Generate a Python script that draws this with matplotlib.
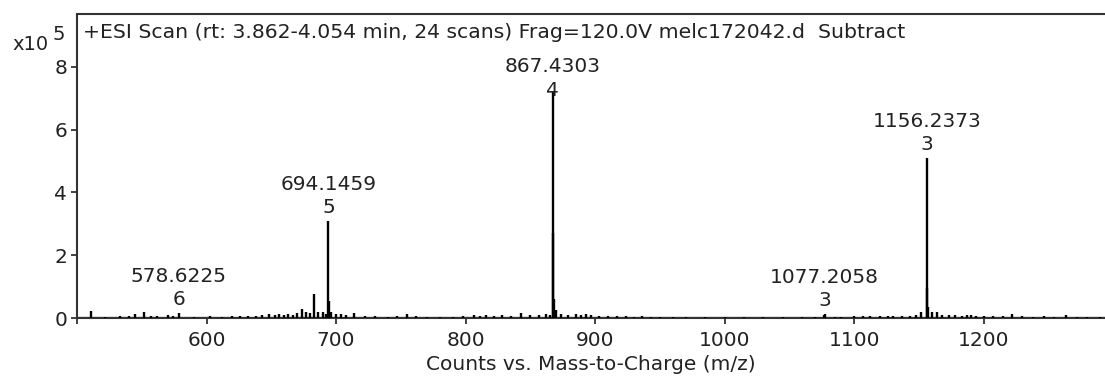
import numpy as np
import matplotlib.pyplot as plt

plt.rcParams['font.family'] = 'DejaVu Sans'

# peak list (m/z, counts in units of 1e5)
mz = [511, 522, 533, 540, 545, 552, 557, 562, 570, 574,
      578.62, 590, 603, 612, 620, 626, 632, 638, 643, 648,
      653, 656, 660, 663, 667, 670, 674, 677, 680, 682.7,
      686, 690, 692, 694.15, 694.35, 696, 700, 704, 708, 714,
      722, 730, 740, 747, 755, 762, 770, 780, 790, 798,
      806.6, 811, 816, 822, 828, 835, 843, 850, 857, 862,
      865, 867.43, 867.68, 868.2, 870, 874, 879, 885, 889, 893,
      897, 903, 910, 917, 924, 930, 936, 943, 950, 960,
      970, 985, 1000, 1015, 1030, 1045, 1060, 1070, 1076.9, 1077.2,
      1085, 1090, 1100, 1107, 1112, 1120, 1126, 1130, 1137, 1143,
      1148, 1152, 1156.24, 1156.57, 1157.2, 1160, 1164, 1168, 1173, 1178,
      1183, 1187, 1190, 1194, 1200, 1207, 1215, 1222, 1230, 1238,
      1247, 1254, 1264, 1272, 1280, 1290]
counts = [0.22, 0.04, 0.06, 0.05, 0.12, 0.2, 0.05, 0.06, 0.09, 0.06,
          0.17, 0.04, 0.06, 0.04, 0.05, 0.06, 0.07, 0.06, 0.1, 0.12,
          0.1, 0.13, 0.08, 0.14, 0.1, 0.16, 0.28, 0.2, 0.15, 0.78,
          0.18, 0.2, 0.12, 3.1, 0.55, 0.2, 0.14, 0.12, 0.08, 0.16,
          0.06, 0.05, 0.04, 0.06, 0.13, 0.05, 0.04, 0.04, 0.04, 0.05,
          0.1, 0.06, 0.08, 0.06, 0.08, 0.07, 0.16, 0.09, 0.1, 0.12,
          0.1, 7.2, 2.7, 0.6, 0.25, 0.14, 0.1, 0.12, 0.08, 0.13,
          0.08, 0.06, 0.05, 0.07, 0.05, 0.04, 0.06, 0.04, 0.04, 0.03,
          0.03, 0.03, 0.03, 0.03, 0.03, 0.03, 0.03, 0.04, 0.1, 0.14,
          0.04, 0.04, 0.07, 0.05, 0.06, 0.07, 0.05, 0.06, 0.05, 0.06,
          0.08, 0.18, 5.1, 0.95, 0.35, 0.2, 0.18, 0.1, 0.1, 0.09,
          0.07, 0.08, 0.1, 0.07, 0.05, 0.06, 0.05, 0.12, 0.06, 0.04,
          0.05, 0.04, 0.08, 0.04, 0.04, 0.03]

# labelled peaks
label_mz = [578.6225, 694.1459, 867.4303, 1077.2058, 1156.2373]
label_top = [0.17, 3.1, 7.2, 0.14, 5.1]
label_z = ['6', '5', '4', '3', '3']

title = '+ESI Scan (rt: 3.862-4.054 min, 24 scans) Frag=120.0V melc172042.d  Subtract'

fig = plt.figure(figsize=(11.05, 3.8), dpi=100)
ax = fig.add_axes([77 / 1105, 1 - 318 / 380, 1 - 77 / 1105, (318 - 14) / 380])

ax.axhline(0, color='black', linewidth=2.3, zorder=2)
ax.vlines(mz, 0, counts, color='black', linewidth=1.7, zorder=3)

txt = '#222222'
fs = 14.5
for m, top, z in zip(label_mz, label_top, label_z):
    zy = min(top + 0.42, 7.26)
    ax.text(m, zy, z, ha='center', va='center', fontsize=fs, color=txt)
    ax.text(m, zy + 0.74, f'{m:.4f}', ha='center', va='center', fontsize=fs, color=txt)

ax.text(6 / 1028, 0.94, title, transform=ax.transAxes, ha='left', va='center',
        fontsize=14.7, color=txt)

ax.set_xlim(500, 500 + (1105 - 78.7) / 1.293)
ax.set_ylim(0, 9.68)
ax.set_xticks([500, 600, 700, 800, 900, 1000, 1100, 1200])
ax.set_xticklabels(['', '600', '700', '800', '900', '1000', '1100', '1200'])
ax.set_yticks([0, 2, 4, 6, 8])
ax.tick_params(axis='both', labelsize=fs, colors=txt, length=4, width=1.2)
ax.tick_params(axis='x', pad=5)
ax.tick_params(axis='y', pad=3)

for side in ['left', 'top', 'bottom']:
    ax.spines[side].set_color('#333333')
    ax.spines[side].set_linewidth(1.5)
ax.spines['right'].set_visible(False)

ax.set_xlabel('Counts vs. Mass-to-Charge (m/z)', fontsize=fs, color=txt, labelpad=4)
fig.text(12 / 1105, 1 - 44 / 380, 'x10', fontsize=14, color=txt, ha='left', va='center')
fig.text(53 / 1105, 1 - 35 / 380, '5', fontsize=14, color=txt, ha='left', va='center')

plt.savefig('out.png', dpi=100)
